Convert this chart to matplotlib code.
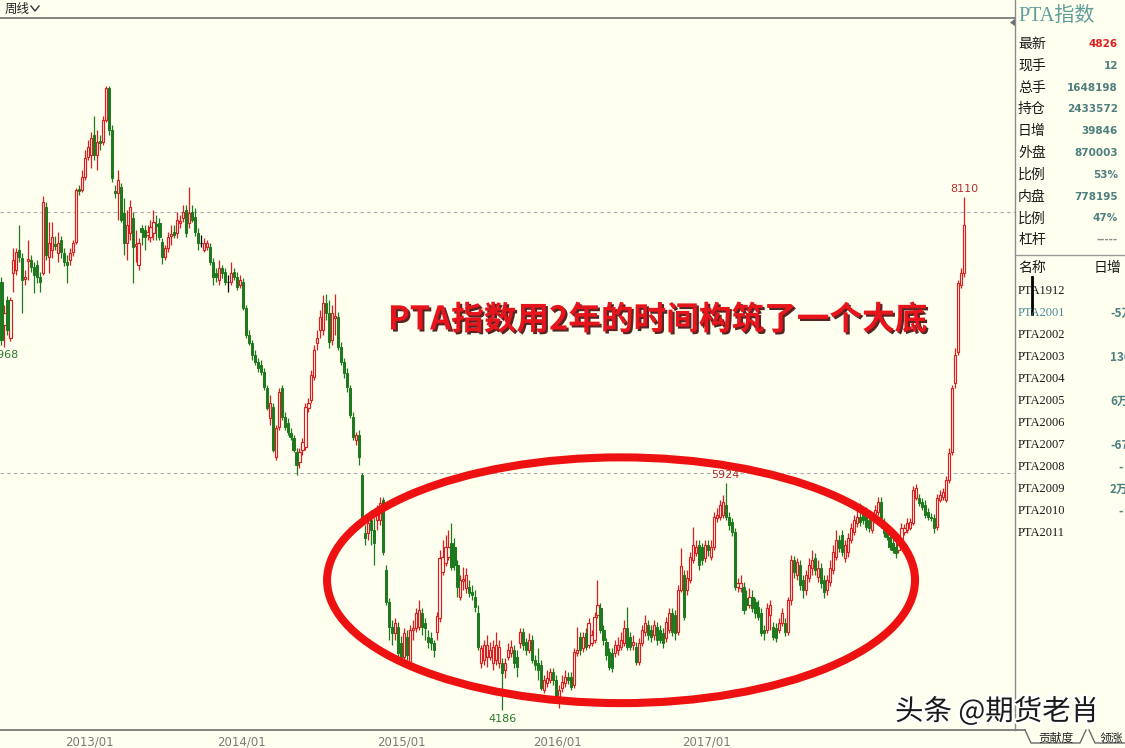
import numpy as np
import matplotlib
matplotlib.use("Agg")
import matplotlib.pyplot as plt
from matplotlib.patches import Ellipse, Polygon
from matplotlib.lines import Line2D
import matplotlib.patheffects as pe

# ---------------- data (weekly PTA index OHLC) ----------------
opens = [
    7462, 7133, 7324, 7033, 7531, 7554, 7707, 7645, 7485, 7622,
    7630, 7576, 7592, 7500, 7531, 8035, 7653, 7707, 7753, 7684,
    7783, 7684, 7615, 7630, 7691, 7768, 8173, 8166, 8265, 8418,
    8433, 8586, 8433, 8540, 8533, 8701, 8946, 8624, 8158, 8143,
    8188, 7990, 7760, 7837, 7951, 7737, 7592, 7875, 7860, 7821,
    7806, 7837, 7905, 7913, 7768, 7653, 7722, 7814, 7844, 7837,
    7913, 7951, 8013, 7913, 7997, 7959, 7837, 7760, 7707, 7730,
    7730, 7615, 7531, 7477, 7569, 7538, 7462, 7462, 7538, 7500,
    7439, 7462, 7263, 7056, 6995, 6903, 6850, 6827,
    6773, 6651, 6421, 6505, 6123, 6353, 6651, 6429, 6383, 6306,
    6268, 6161, 6085, 6176, 6199, 6497, 6559, 6735, 6995, 7095,
    7095, 7301, 7225, 7018, 7186, 7194, 6965, 6850, 6765, 6651,
    6429, 6253, 6291, 5985, 5542, 5542, 5641, 5565, 5641, 5641,
    5794, 5259, 5014, 4823, 4777, 4823, 4700, 4593, 4746, 4547,
    4800, 4815, 4823, 4930, 4853, 4746, 4738, 4700,
    4784, 4891, 5243, 5312, 5358, 5465, 5434, 5296, 5052, 5174,
    5121, 5128, 5090, 5052, 4930, 4547, 4570, 4593, 4593, 4547,
    4570, 4547, 4547, 4494, 4593, 4623, 4646, 4593,
    4700, 4784, 4708, 4646, 4723, 4570, 4547, 4532, 4341, 4394,
    4417, 4478, 4417, 4279, 4356, 4394, 4440, 4440, 4379, 4623,
    4746, 4662, 4777, 4685, 4700, 4723, 4914, 4968, 4800, 4708,
    4631, 4623, 4623, 4646, 4669, 4700, 4815, 4746, 4685, 4669,
    4555, 4700, 4784, 4838, 4800, 4761, 4823, 4800, 4777, 4738,
    4800, 4930, 4914, 4784, 5106, 5220, 5106, 5182, 5335, 5389,
    5450, 5434, 5350, 5450, 5358, 5434, 5656, 5664, 5679, 5756,
    5664, 5626, 5549, 5128, 5121, 5128, 5044, 4991, 5052, 5014,
    4975, 4930, 4800, 4800, 4914, 4823, 4815, 4800, 4853, 4853,
    4784, 5029, 5335, 5220, 5296, 5182, 5106, 5198, 5274, 5350,
    5205, 5274, 5182, 5106, 5167, 5259, 5358, 5488, 5526, 5350,
    5396, 5488, 5549, 5618, 5664, 5702, 5702, 5641, 5565, 5641,
    5702, 5779, 5618, 5565, 5511, 5465, 5434, 5412, 5465, 5549,
    5565, 5580, 5618, 5809, 5809, 5779, 5756, 5702, 5664, 5656,
    5587, 5794, 5817, 5794, 5947, 6161, 6689, 6927, 7439, 7531,
]
highs = [
    7500, 7286, 7355, 7347, 7722, 7722, 7898, 7684, 7554, 7783,
    7668, 7615, 7630, 7538, 8120, 8074, 7921, 7921, 7814, 7844,
    7814, 7722, 7668, 7722, 7783, 8181, 8204, 8319, 8471, 8548,
    8609, 8732, 8624, 8586, 8732, 8961, 8961, 8663, 8204, 8319,
    8219, 8104, 8013, 8089, 7997, 7860, 7798, 7898, 7898, 7898,
    7936, 8013, 7974, 7951, 7798, 7745, 7844, 7898, 7898, 7997,
    7974, 8051, 8051, 8188, 8051, 8028, 7875, 7821, 7798, 7783,
    7760, 7645, 7569, 7630, 7592, 7569, 7515, 7615, 7569, 7538,
    7515, 7492, 7286, 7095, 7018, 6942, 6880, 6865,
    6804, 6674, 6597, 6536, 6368, 6651, 6674, 6467, 6421, 6345,
    6291, 6192, 6192, 6268, 6536, 6574, 6788, 6980, 7095, 7248,
    7363, 7370, 7324, 7286, 7370, 7232, 7003, 6880, 6804, 6674,
    6467, 6314, 6330, 6001, 5603, 5679, 5717, 5656, 5756, 5817,
    5817, 5296, 5044, 4876, 4891, 4861, 4754, 4815, 4800, 4838,
    4876, 4968, 5029, 4968, 4891, 4800, 4784, 4723,
    4937, 5412, 5488, 5526, 5565, 5618, 5503, 5335, 5220, 5281,
    5274, 5182, 5144, 5106, 4991, 4685, 4723, 4761, 4708, 4723,
    4784, 4723, 4585, 4585, 4700, 4723, 4685, 4646,
    4815, 4815, 4738, 4777, 4761, 4608, 4662, 4570, 4455, 4494,
    4509, 4509, 4455, 4379, 4455, 4494, 4478, 4478, 4662, 4823,
    4784, 4784, 4815, 4891, 4800, 4937, 5182, 5006, 4838, 4738,
    4662, 4662, 4723, 4746, 4784, 4876, 4975, 4784, 4761, 4708,
    4738, 4838, 4914, 4876, 4838, 4876, 4861, 4838, 4815, 4899,
    4968, 4968, 4953, 5144, 5427, 5259, 5259, 5396, 5587, 5488,
    5488, 5465, 5488, 5488, 5488, 5702, 5733, 5794, 5832, 5924,
    5702, 5656, 5580, 5198, 5220, 5167, 5106, 5121, 5106, 5044,
    5029, 4968, 4838, 5006, 5029, 4861, 4853, 4891, 4968, 4891,
    5052, 5373, 5366, 5350, 5335, 5220, 5259, 5350, 5412, 5389,
    5335, 5312, 5220, 5220, 5335, 5450, 5565, 5526, 5565, 5488,
    5542, 5618, 5679, 5733, 5771, 5741, 5741, 5679, 5679, 5756,
    5817, 5817, 5656, 5595, 5549, 5503, 5473, 5526, 5618, 5610,
    5656, 5656, 5901, 5917, 5840, 5809, 5794, 5733, 5695, 5687,
    5840, 5871, 5886, 5978, 6192, 6674, 6957, 7477, 7569, 8110,
]
lows = [
    6980, 6968, 7056, 7010, 7385, 7515, 7615, 7225, 7439, 7477,
    7538, 7378, 7454, 7385, 7515, 7630, 7531, 7645, 7707, 7615,
    7645, 7584, 7454, 7592, 7661, 7753, 8127, 8150, 8242, 8395,
    8334, 8395, 8319, 8471, 8510, 8686, 8586, 8227, 8104, 7936,
    7921, 7668, 7630, 7783, 7454, 7615, 7554, 7745, 7707, 7783,
    7768, 7783, 7783, 7783, 7599, 7630, 7691, 7745, 7798, 7798,
    7875, 7921, 7806, 7875, 7921, 7814, 7707, 7730, 7691, 7707,
    7592, 7439, 7462, 7439, 7492, 7439, 7385, 7439, 7477, 7401,
    7416, 7248, 7033, 6980, 6865, 6827, 6773, 6750,
    6636, 6482, 6368, 6161, 6100, 6330, 6406, 6330, 6291, 6253,
    6161, 5985, 6039, 6138, 6176, 6467, 6536, 6712, 6942, 7033,
    7056, 7171, 6957, 6980, 7056, 6942, 6827, 6727, 6620, 6421,
    6253, 6215, 6062, 5641, 5450, 5488, 5450, 5296, 5565, 5603,
    5373, 4991, 4723, 4685, 4723, 4570, 4570, 4532, 4570, 4509,
    4723, 4784, 4800, 4761, 4723, 4662, 4646, 4593,
    4723, 4861, 5220, 5289, 5335, 5259, 5259, 5052, 5029, 5106,
    5083, 5052, 5029, 4937, 4646, 4509, 4532, 4517, 4570, 4494,
    4532, 4509, 4186, 4432, 4570, 4593, 4509, 4440,
    4662, 4646, 4608, 4623, 4547, 4494, 4417, 4341, 4318, 4363,
    4394, 4379, 4264, 4203, 4325, 4363, 4387, 4341, 4356, 4600,
    4608, 4631, 4646, 4662, 4677, 4700, 4891, 4777, 4685, 4570,
    4494, 4478, 4593, 4608, 4646, 4677, 4646, 4646, 4646, 4532,
    4532, 4677, 4754, 4723, 4708, 4723, 4685, 4700, 4662, 4708,
    4777, 4754, 4723, 4761, 5090, 4876, 5067, 5159, 5312, 5366,
    5259, 5296, 5320, 5366, 5335, 5412, 5626, 5641, 5656, 5641,
    5565, 5519, 5106, 5090, 5090, 4922, 4953, 4968, 4937, 4891,
    4876, 4754, 4723, 4777, 4800, 4723, 4708, 4777, 4830, 4754,
    4761, 4991, 5198, 5182, 5106, 5044, 5067, 5167, 5220, 5220,
    5167, 5121, 5044, 5067, 5136, 5228, 5335, 5396, 5366, 5320,
    5358, 5465, 5526, 5587, 5595, 5610, 5565, 5549, 5542, 5618,
    5679, 5580, 5511, 5488, 5412, 5389, 5350, 5389, 5442, 5526,
    5542, 5565, 5603, 5794, 5748, 5717, 5656, 5641, 5633, 5542,
    5565, 5779, 5794, 5779, 5924, 6138, 6651, 6903, 7416, 7500,
]
closes = [
    7018, 7225, 7095, 7324, 7630, 7691, 7653, 7477, 7500, 7638,
    7576, 7515, 7500, 7462, 8074, 7668, 7760, 7806, 7737, 7760,
    7691, 7615, 7592, 7684, 7760, 8166, 8158, 8265, 8410, 8494,
    8563, 8433, 8533, 8525, 8701, 8946, 8624, 8257, 8143, 8242,
    7936, 7760, 7898, 8035, 7730, 7753, 7760, 7844, 7806, 7844,
    7882, 7921, 7890, 7806, 7653, 7722, 7806, 7829, 7821, 7936,
    7928, 7997, 7837, 7990, 7936, 7844, 7760, 7760, 7760, 7760,
    7615, 7500, 7500, 7569, 7531, 7462, 7462, 7531, 7500, 7423,
    7477, 7263, 7056, 6995, 6903, 6850, 6804, 6773,
    6658, 6497, 6536, 6176, 6345, 6620, 6429, 6353, 6314, 6276,
    6176, 6062, 6161, 6238, 6505, 6536, 6750, 6942, 7033, 7194,
    7301, 7225, 7003, 7225, 7202, 6965, 6850, 6765, 6658, 6444,
    6276, 6291, 6123, 5656, 5503, 5618, 5565, 5465, 5695, 5771,
    5396, 5014, 4823, 4777, 4853, 4623, 4593, 4777, 4608, 4800,
    4815, 4930, 4953, 4823, 4815, 4708, 4700, 4646,
    4907, 5350, 5358, 5434, 5434, 5281, 5296, 5128, 5182, 5190,
    5220, 5083, 5067, 4975, 4669, 4662, 4685, 4685, 4646, 4669,
    4685, 4669, 4471, 4547, 4646, 4669, 4547, 4517,
    4784, 4685, 4646, 4723, 4570, 4532, 4494, 4356, 4417, 4432,
    4478, 4417, 4279, 4341, 4402, 4440, 4417, 4363, 4631, 4646,
    4646, 4746, 4669, 4853, 4761, 4899, 4991, 4800, 4723, 4608,
    4517, 4509, 4685, 4685, 4723, 4815, 4669, 4669, 4708, 4555,
    4700, 4800, 4853, 4761, 4746, 4838, 4723, 4723, 4700, 4861,
    4930, 4784, 4777, 5106, 5289, 4899, 5198, 5358, 5450, 5434,
    5296, 5335, 5450, 5412, 5434, 5664, 5679, 5756, 5779, 5664,
    5603, 5549, 5128, 5159, 5159, 4953, 4991, 5052, 4968, 4930,
    4899, 4777, 4777, 4968, 4991, 4746, 4738, 4853, 4930, 4784,
    5029, 5335, 5243, 5320, 5144, 5106, 5220, 5296, 5335, 5259,
    5274, 5159, 5090, 5182, 5274, 5396, 5488, 5427, 5396, 5450,
    5503, 5580, 5641, 5664, 5626, 5641, 5587, 5580, 5641, 5717,
    5779, 5603, 5542, 5511, 5434, 5412, 5389, 5488, 5580, 5580,
    5618, 5626, 5871, 5886, 5771, 5741, 5679, 5664, 5656, 5580,
    5809, 5832, 5855, 5947, 6153, 6651, 6903, 7454, 7531, 7898,
]

date_ticks = [29.4, 80.7, 134.1, 186.6, 236.7]
date_labels = ["2013/01", "2014/01", "2015/01", "2016/01", "2017/01"]
grid_levels = [6000, 8000]
marked_highs = [8110, 5924]
marked_lows = [4186, 6968]

panel_labels = ["最新", "现手", "总手", "持仓", "日增", "外盘", "比例", "内盘", "比例", "杠杆"]
panel_values = ["4826", "12", "1648198", "2433572", "39846", "870003", "53%", "778195", "47%", "-----"]
contracts = ["PTA1912", "PTA2001", "PTA2002", "PTA2003", "PTA2004", "PTA2005",
             "PTA2006", "PTA2007", "PTA2008", "PTA2009", "PTA2010", "PTA2011"]
contract_values = ["", "-5万", "", "130", "", "6万", "", "-67", "-", "2万", "-", ""]

title_text = "PTA指数用2年的时间构筑了一个大底"
watermark = "头条 @期货老肖"

# ---------------- style ----------------
BG = "#FFFFF0"
RED = "#D81E1E"
GREEN = "#1E781E"
CJK = ["Noto Sans CJK SC", "DejaVu Sans"]
W, H = 1125, 748

fig = plt.figure(figsize=(W / 100, H / 100), dpi=100, facecolor=BG)

# main chart axes (pixel box x:0-1015, y:18-730)
ax = fig.add_axes([0, (H - 730) / H, 1015 / W, (730 - 18) / H])
ax.set_facecolor(BG)
for s in ax.spines.values():
    s.set_visible(False)

o = np.array(opens, float)
h = np.array(highs, float)
l = np.array(lows, float)
c = np.array(closes, float)
n = len(c)
x = np.arange(n)
up = c > o
dn = c < o
flat = c == o
wick_col = np.where(up, RED, np.where(dn, GREEN, "black"))

ax.vlines(x, l, h, colors=wick_col, lw=0.9, zorder=2)
bw = 0.72
ax.bar(x[up], (c - o)[up], bottom=o[up], width=bw, facecolor=BG,
       edgecolor=RED, lw=0.85, zorder=3)
ax.bar(x[dn], (o - c)[dn], bottom=c[dn], width=bw, facecolor=GREEN,
       edgecolor=GREEN, lw=0.7, zorder=3)
ax.hlines(o[flat], x[flat] - 0.45, x[flat] + 0.45, colors="black", lw=0.9, zorder=3)

for lv in grid_levels:
    ax.axhline(lv, color="#A8A8A8", lw=0.8, ls=(0, (3, 3)), zorder=1)

ax.set_xlim(-0.5, 340.1)
ax.set_ylim(4034.5, 9481)
ax.set_yticks([])
ax.set_xticks(date_ticks, date_labels)
ax.tick_params(axis="x", length=0, labelsize=8.5, labelcolor="#7A7A7A", pad=4)

# price labels at marked extremes
for v in marked_highs:
    i = int(np.where(h == v)[0][0])
    ax.annotate(f"{int(h[i])}", (x[i], h[i]), xytext=(0, 2), textcoords="offset points",
                ha="center", va="bottom", fontsize=8, color="#B03030", zorder=6)
for v in marked_lows:
    i = int(np.where(l == v)[0][0])
    ax.annotate(f"{int(l[i])}", (x[i], l[i]), xytext=(0, -2.5), textcoords="offset points",
                ha="center", va="top", fontsize=8, color="#2A7A2A", zorder=6,
                annotation_clip=False)

# hand-drawn red ellipse around the base
ax.add_patch(Ellipse((207.9, 5180), 197.3, 1880, fill=False, edgecolor="#EE1111",
                     lw=5.8, zorder=4))

# ---------------- overlay (pixel coordinates) ----------------
ov = fig.add_axes([0, 0, 1, 1])
ov.set_xlim(0, W)
ov.set_ylim(H, 0)
ov.axis("off")
ov.patch.set_alpha(0)

def line(xs, ys, color="#808080", lw=1.0):
    ov.add_line(Line2D(xs, ys, color=color, lw=lw))

line([0, 1015], [18, 18], "#7A7A7A", 1.3)
line([1015, 1015], [0, 730], "#8A8A8A", 1.0)
line([0, 1025], [730, 730], "#7A7A7A", 1.3)
line([1015, 1125], [255, 255], "#9A9A9A", 1.0)
# tabs
line([1025, 1031, 1080, 1086], [730, 743, 743, 730], "#6A6A6A", 1.0)
line([1089, 1095, 1125], [730, 743, 743], "#6A6A6A", 1.0)
ov.text(1056, 738, "贡献度", family=CJK, fontsize=8.5, ha="center", va="center", color="#222222")
ov.text(1111, 738, "领涨", family=CJK, fontsize=8.5, ha="center", va="center", color="#222222")

# header
ov.text(5, 9, "周线", family=CJK, fontsize=9, ha="left", va="center", color="#222222")
line([31, 35, 39], [6, 11, 6], "#333333", 1.0)
ov.add_patch(Polygon([[1016, 18], [1010, 22.5], [1016, 27]], closed=True,
                     facecolor="#6E6E6E", edgecolor="none"))

# title
ov.text(388, 320, title_text, family=CJK, fontsize=23.5, fontweight="bold",
        color="#E8141C", ha="left", va="center",
        path_effects=[pe.SimplePatchShadow(offset=(1.5, -1.5), shadow_rgbFace="#3A0000",
                                           alpha=0.85), pe.Normal()])

# right panel
ov.text(1018, 16, "PTA指数", family=["Liberation Serif", "Noto Sans CJK SC"],
        fontsize=14.5, color="#5E9E9A", ha="left", va="center")
for k, (lab, val) in enumerate(zip(panel_labels, panel_values)):
    yy = 44 + k * 21.8
    ov.text(1018, yy, lab, family=CJK, fontsize=10, color="#1A1A1A", ha="left", va="center")
    col = "#E02020" if k == 0 else ("#8A8A8A" if val.startswith("-") else "#4E7E7E")
    ov.text(1118, yy, val, family="DejaVu Sans", fontsize=7.5, fontweight="bold",
            color=col, ha="right", va="center")

ov.text(1018, 268, "名称", family=CJK, fontsize=10, color="#1A1A1A", ha="left", va="center")
ov.text(1094, 268, "日增", family=CJK, fontsize=10, color="#1A1A1A", ha="left", va="center")
line([1032, 1032], [277, 314], "#000000", 2.0)
for k, (name, val) in enumerate(zip(contracts, contract_values)):
    yy = 291 + k * 22
    ov.text(1018, yy, name, family="Liberation Serif", fontsize=9,
            color="#4A8A9A" if k == 1 else "#1A1A1A", ha="left", va="center")
    if val:
        ov.text(1110 if len(val) > 1 else 1118, yy, val, family=CJK, fontsize=8.5,
                fontweight="bold", color="#4E7E7E", ha="left", va="center")

# watermark
ov.text(895, 712, watermark, family=CJK, fontsize=20.5, color="#1A1A1A",
        ha="left", va="center",
        path_effects=[pe.withStroke(linewidth=3, foreground="white")])

fig.savefig("out.png", dpi=100, facecolor=BG)
